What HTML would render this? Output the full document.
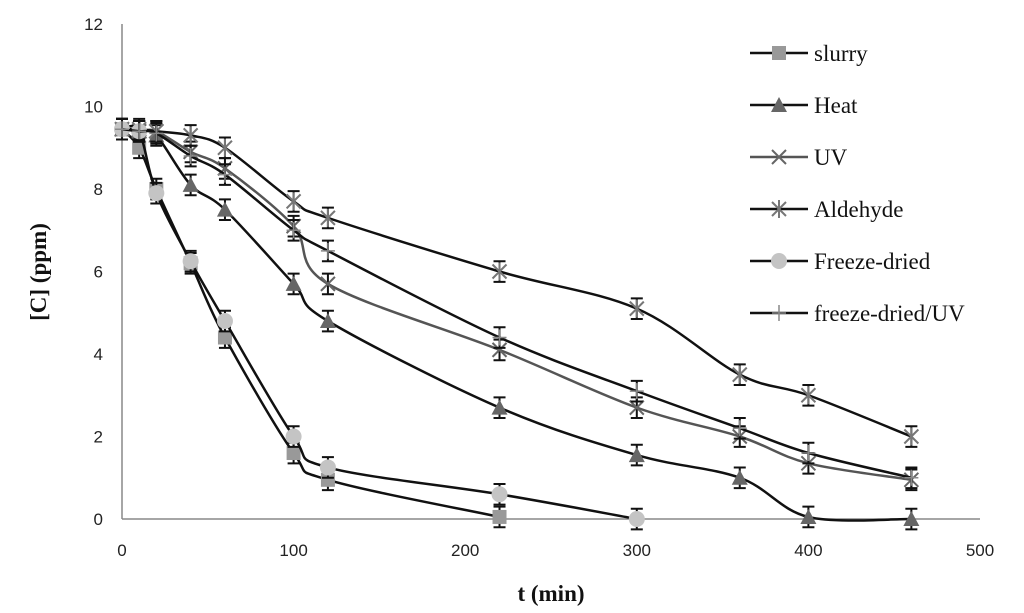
<!DOCTYPE html>
<html><head><meta charset="utf-8"><style>
body{margin:0;background:#fff}
svg{display:block}
.tick{font-family:"Liberation Sans",sans-serif;font-size:17px;fill:#222}
.title{font-family:"Liberation Serif",serif;font-size:23px;font-weight:bold;fill:#111}
.leg{font-family:"Liberation Serif",serif;font-size:23px;fill:#111}
</style></head><body>
<svg id="chart" width="1024" height="613"></svg>
<script>
const xTicks=[0,100,200,300,400,500];
const yTicks=[0,2,4,6,8,10,12];
const seriesNames=["slurry","Heat","UV","Aldehyde","Freeze-dried","freeze-dried/UV"];
const slurryT=[0,10,20,40,60,100,120,220];
const slurryC=[9.45,9.0,8.0,6.2,4.4,1.6,0.95,0.05];
const heatT=[0,10,20,40,60,100,120,220,300,360,400,460];
const heatC=[9.45,9.4,9.3,8.1,7.5,5.7,4.8,2.7,1.55,1.0,0.05,0.0];
const uvT=[0,10,20,40,60,100,120,220,300,360,400,460];
const uvC=[9.45,9.4,9.4,8.9,8.5,7.1,5.7,4.1,2.7,2.0,1.35,0.95];
const aldT=[0,10,20,40,60,100,120,220,300,360,400,460];
const aldC=[9.45,9.45,9.4,9.3,9.0,7.7,7.3,6.0,5.1,3.5,3.0,2.0];
const fdT=[0,10,20,40,60,100,120,220,300];
const fdC=[9.45,9.4,7.9,6.25,4.8,2.0,1.25,0.6,0.0];
const fduvT=[0,10,20,40,60,100,120,220,300,360,400,460];
const fduvC=[9.45,9.4,9.35,8.8,8.35,7.0,6.5,4.4,3.1,2.2,1.6,1.0];
const errBar=0.25;

const X=t=>122+t*1.716, Y=c=>519-c*41.25;
const svg=document.getElementById('chart');const NS='http://www.w3.org/2000/svg';
function mk(tag,attrs,parent){const e=document.createElementNS(NS,tag);for(const k in attrs)e.setAttribute(k,attrs[k]);(parent||svg).appendChild(e);return e;}
let e;
e=mk('line',{x1:122,y1:24,x2:122,y2:519,stroke:'#888','stroke-width':1.5});


e=mk('line',{x1:122,y1:519,x2:980,y2:519,stroke:'#888','stroke-width':1.5});


xTicks.forEach(v=>{const t=mk('text',{x:X(v),y:556,'text-anchor':'middle',class:'tick'});t.textContent=v;

});
yTicks.forEach(v=>{const t=mk('text',{x:103,y:Y(v)+6,'text-anchor':'end',class:'tick'});t.textContent=v;

});
e=mk('text',{x:551,y:601,'text-anchor':'middle',class:'title'});e.textContent='t (min)';


e=mk('text',{x:0,y:0,'text-anchor':'middle',class:'title',transform:'translate(46,272) rotate(-90)'});e.textContent='[C] (ppm)';



function path(ts,cs){const p=ts.map((t,i)=>[X(t),Y(cs[i])]);let d=`M${p[0][0]},${p[0][1]}`;
for(let i=0;i<p.length-1;i++){const p0=p[i-1]||p[i],p1=p[i],p2=p[i+1],p3=p[i+2]||p2;
d+=` C${p1[0]+(p2[0]-p0[0])/6},${p1[1]+(p2[1]-p0[1])/6} ${p2[0]-(p3[0]-p1[0])/6},${p2[1]-(p3[1]-p1[1])/6} ${p2[0]},${p2[1]}`;}return d;}
function marker(kind,x,y,g){
 if(kind==='sq')mk('rect',{x:x-7,y:y-7,width:14,height:14,fill:'#999'},g);
 else if(kind==='tri')mk('polygon',{points:`${x},${y-8} ${x+8},${y+7} ${x-8},${y+7}`,fill:'#666'},g);
 else if(kind==='x'){mk('path',{d:`M${x-7},${y-7}L${x+7},${y+7}M${x+7},${y-7}L${x-7},${y+7}`,stroke:'#666','stroke-width':2},g);}
 else if(kind==='star'){mk('path',{d:`M${x-7},${y-7}L${x+7},${y+7}M${x+7},${y-7}L${x-7},${y+7}M${x},${y-9}L${x},${y+9}`,stroke:'#777','stroke-width':2},g);}
 else if(kind==='circ')mk('circle',{cx:x,cy:y,r:8,fill:'#c4c4c4'},g);
 else if(kind==='plus'){mk('path',{d:`M${x-7},${y}L${x+7},${y}M${x},${y-8}L${x},${y+8}`,stroke:'#888','stroke-width':1.5},g);}
}
const S=[[slurryT,slurryC,'sq','#111','series-slurry'],[heatT,heatC,'tri','#111','series-heat'],[uvT,uvC,'x','#555','series-uv'],
[aldT,aldC,'star','#111','series-aldehyde'],[fdT,fdC,'circ','#111','series-freeze-dried'],[fduvT,fduvC,'plus','#111','series-freeze-dried-uv']];
S.forEach(([ts,cs,kind,col,name])=>{
 const g=mk('g',{});
 
 
 mk('path',{d:path(ts,cs),fill:'none',stroke:col,'stroke-width':2.5},g);
 ts.forEach((t,i)=>{const x=X(t),y=Y(cs[i]),y1=Y(cs[i]+errBar),y2=Y(cs[i]-errBar);
  mk('path',{d:`M${x},${y1}L${x},${y2}M${x-6},${y1}L${x+6},${y1}M${x-6},${y2}L${x+6},${y2}`,stroke:'#111','stroke-width':2},g);
  marker(kind,x,y,g);});
});
const legKinds=['sq','tri','x','star','circ','plus'];
seriesNames.forEach((n,i)=>{const y=53+i*52;const g=mk('g',{});
 
 
 mk('line',{x1:750,y1:y,x2:808,y2:y,stroke:i===2?'#555':'#111','stroke-width':2.5},g);
 marker(legKinds[i],779,y,g);
 const t=mk('text',{x:814,y:y+8,class:'leg'},g);t.textContent=n;});
</script>
</body></html>
